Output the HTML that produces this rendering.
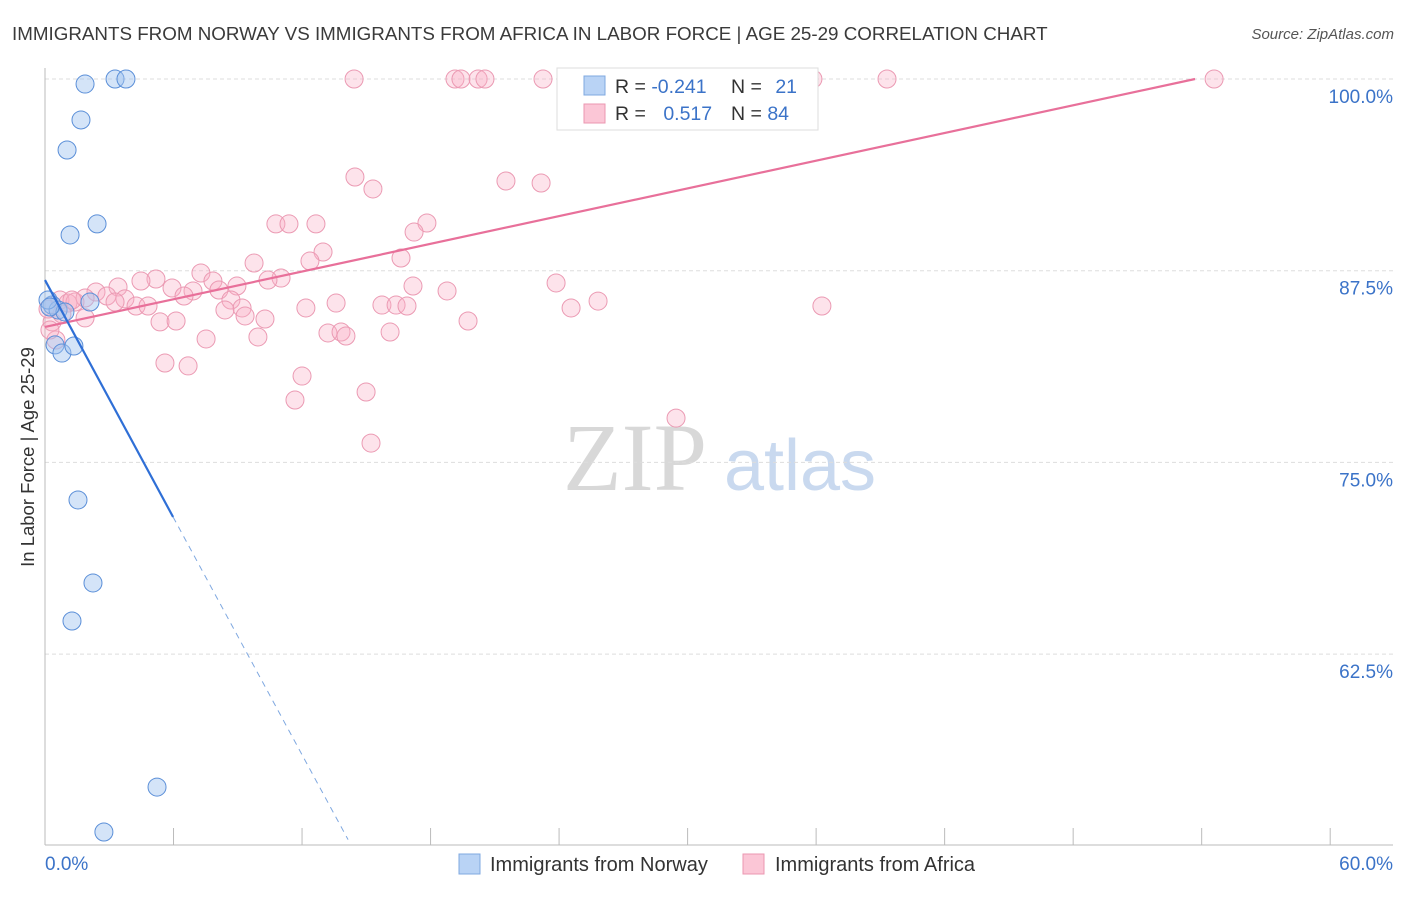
<!DOCTYPE html>
<html><head><meta charset="utf-8">
<style>
body{margin:0;background:#fff;font-family:"Liberation Sans",sans-serif;}
svg text{font-family:"Liberation Sans",sans-serif;}
</style></head>
<body>
<svg id="chart" width="1406" height="892" viewBox="0 0 1406 892" xmlns="http://www.w3.org/2000/svg">
<text x="12" y="40" font-size="18.8" fill="#3a3a3a">IMMIGRANTS FROM NORWAY VS IMMIGRANTS FROM AFRICA IN LABOR FORCE | AGE 25-29 CORRELATION CHART</text>
<text x="1394" y="39" font-size="15" fill="#555" text-anchor="end" font-style="italic">Source: ZipAtlas.com</text>
<g>
<text x="635" y="490" font-size="96" fill="#d8d8d8" text-anchor="middle" font-family="Liberation Serif, serif" style="font-family:'Liberation Serif',serif">ZIP</text>
<text x="800" y="490" font-size="72" fill="#c9d9ef" text-anchor="middle">atlas</text>
</g>
<g id="grid"></g>
<g id="axes"></g>
<g id="marks"></g>
<g id="lines"></g>
<text transform="translate(34,457) rotate(-90)" font-size="18.5" fill="#333" text-anchor="middle">In Labor Force | Age 25-29</text>
<g>
<rect x="557" y="68" width="261" height="62" fill="#fff" stroke="#ddd"/>
<rect x="584" y="76" width="21" height="19" fill="#b9d3f5" stroke="#7fa8e0"/>
<rect x="584" y="104" width="21" height="19" fill="#fbc6d6" stroke="#eb97b0"/>
<text x="615" y="93" font-size="19.5" fill="#333">R = <tspan fill="#3b73c8">-0.241</tspan></text>
<text x="731" y="93" font-size="19.5" fill="#333">N = <tspan fill="#3b73c8" dx="8">21</tspan></text>
<text x="615" y="120" font-size="19.5" fill="#333">R = <tspan fill="#3b73c8" dx="12">0.517</tspan></text>
<text x="731" y="120" font-size="19.5" fill="#333">N = <tspan fill="#3b73c8">84</tspan></text>
</g>
<g>
<rect x="459" y="854" width="21" height="20" fill="#b9d3f5" stroke="#7fa8e0"/>
<text x="490" y="871" font-size="20" fill="#333">Immigrants from Norway</text>
<rect x="743" y="854" width="21" height="20" fill="#fbc6d6" stroke="#eb97b0"/>
<text x="775" y="871" font-size="20" fill="#333">Immigrants from Africa</text>
</g>
</svg>
<script>
const yTicks=[100,87.5,75,62.5];
const yTickLabels=["100.0%","87.5%","75.0%","62.5%"];
const xTickVals=[0,6,12,18,24,30,36,42,48,54,60];
const norwayX=[1.87,3.27,3.78,1.68,1.03,2.43,1.17,0.33,0.61,2.10,0.93,0.47,0.79,1.35,1.54,2.24,1.26,5.23,2.75,0.14,0.23];
const norwayY=[99.67,100,100,97.33,95.37,90.55,89.83,85.26,84.94,85.46,84.81,82.66,82.13,82.59,72.55,67.14,64.66,53.83,50.9,85.59,85.13];
const africaX=[14.43,19.14,19.42,20.22,20.54,23.25,24.32,35.85,39.31,54.58,14.47,15.31,21.52,23.16,10.78,11.39,12.65,17.83,17.23,12.98,12.37,16.62,9.76,7.28,11.02,10.41,5.18,4.48,3.41,5.93,7.84,8.96,6.91,6.49,8.12,17.18,18.77,23.86,25.82,24.56,36.27,2.38,2.89,3.73,4.25,4.81,3.27,8.68,9.20,8.40,9.34,10.27,12.18,13.59,15.73,16.39,16.90,5.37,6.12,7.52,9.94,13.21,13.82,14.05,16.11,19.75,5.60,6.68,12.0,11.67,14.99,15.22,29.46,0.70,1.07,1.40,1.87,0.33,0.51,0.79,1.87,0.23,1.26,0.14];
const africaY=[100,100,100,100,100,100,100,100,100,100,93.61,92.83,93.35,93.22,90.55,90.55,90.55,90.61,90.02,88.72,88.13,88.33,88.0,87.35,87.02,86.89,86.96,86.83,86.44,86.37,86.83,86.50,86.18,85.85,86.24,86.50,86.18,86.70,85.52,85.07,85.20,86.11,85.85,85.66,85.20,85.20,85.46,85.59,85.07,84.94,84.55,84.35,85.07,85.39,85.26,85.26,85.20,84.16,84.22,83.05,83.18,83.44,83.50,83.24,83.50,84.22,81.48,81.29,80.63,79.07,79.59,76.26,77.89,85.59,85.39,85.46,85.72,84.16,82.98,84.68,84.42,83.63,85.59,85.0];
const norwayTrend=[[0,86.89],[5.98,71.44],[14.15,50.4]];
const africaTrend=[[0,83.83],[53.69,100]];
const NS='http://www.w3.org/2000/svg';
const X=v=>45+v*21.42, Y=v=>79+(100-v)*15.336;
function mk(tag,attrs,parent){const e=document.createElementNS(NS,tag);for(const k in attrs)e.setAttribute(k,attrs[k]);parent.appendChild(e);return e;}
const grid=document.getElementById('grid'),axes=document.getElementById('axes'),marks=document.getElementById('marks'),lines=document.getElementById('lines');
yTicks.forEach((t,i)=>{
 const l=mk('line',{x1:45,x2:1393,y1:Y(t),y2:Y(t),stroke:'#ddd','stroke-dasharray':'4,3'},grid);
 
 
 const tx=mk('text',{x:1393,y:Y(t)+24,'font-size':19,fill:'#3b73c8','text-anchor':'end'},axes);
 tx.textContent=yTickLabels[i];
 
 
});
const ya=mk('line',{x1:45,x2:45,y1:68,y2:845,stroke:'#bbb'},axes);


const xa=mk('line',{x1:45,x2:1393,y1:845,y2:845,stroke:'#bbb'},axes);


xTickVals.forEach(t=>{
 const l=mk('line',{x1:X(t),x2:X(t),y1:828,y2:845,stroke:'#bbb'},axes);
 
 
});
const xl0=mk('text',{x:45,y:870,'font-size':19,fill:'#3b73c8'},axes);xl0.textContent='0.0%';


const xl1=mk('text',{x:1393,y:870,'font-size':19,fill:'#3b73c8','text-anchor':'end'},axes);xl1.textContent='60.0%';


africaX.forEach((v,i)=>{
 const c=mk('circle',{cx:X(v),cy:Y(africaY[i]),r:9,fill:'rgba(248,175,198,0.35)',stroke:'#eb9ab3','stroke-width':1},marks);
 
 
});
norwayX.forEach((v,i)=>{
 const c=mk('circle',{cx:X(v),cy:Y(norwayY[i]),r:9,fill:'rgba(160,196,240,0.45)',stroke:'#5b8fd8','stroke-width':1},marks);
 
 
});
const at=mk('line',{x1:X(africaTrend[0][0]),y1:Y(africaTrend[0][1]),x2:X(africaTrend[1][0]),y2:Y(africaTrend[1][1]),stroke:'#e8709a','stroke-width':2.2},lines);


const nt=mk('line',{x1:X(norwayTrend[0][0]),y1:Y(norwayTrend[0][1]),x2:X(norwayTrend[1][0]),y2:Y(norwayTrend[1][1]),stroke:'#2f6fd6','stroke-width':2.2},lines);


const nd=mk('line',{x1:X(norwayTrend[1][0]),y1:Y(norwayTrend[1][1]),x2:X(norwayTrend[2][0]),y2:Y(norwayTrend[2][1]),stroke:'#7fa8e0','stroke-width':1,'stroke-dasharray':'6,5'},lines);


</script>
</body></html>
